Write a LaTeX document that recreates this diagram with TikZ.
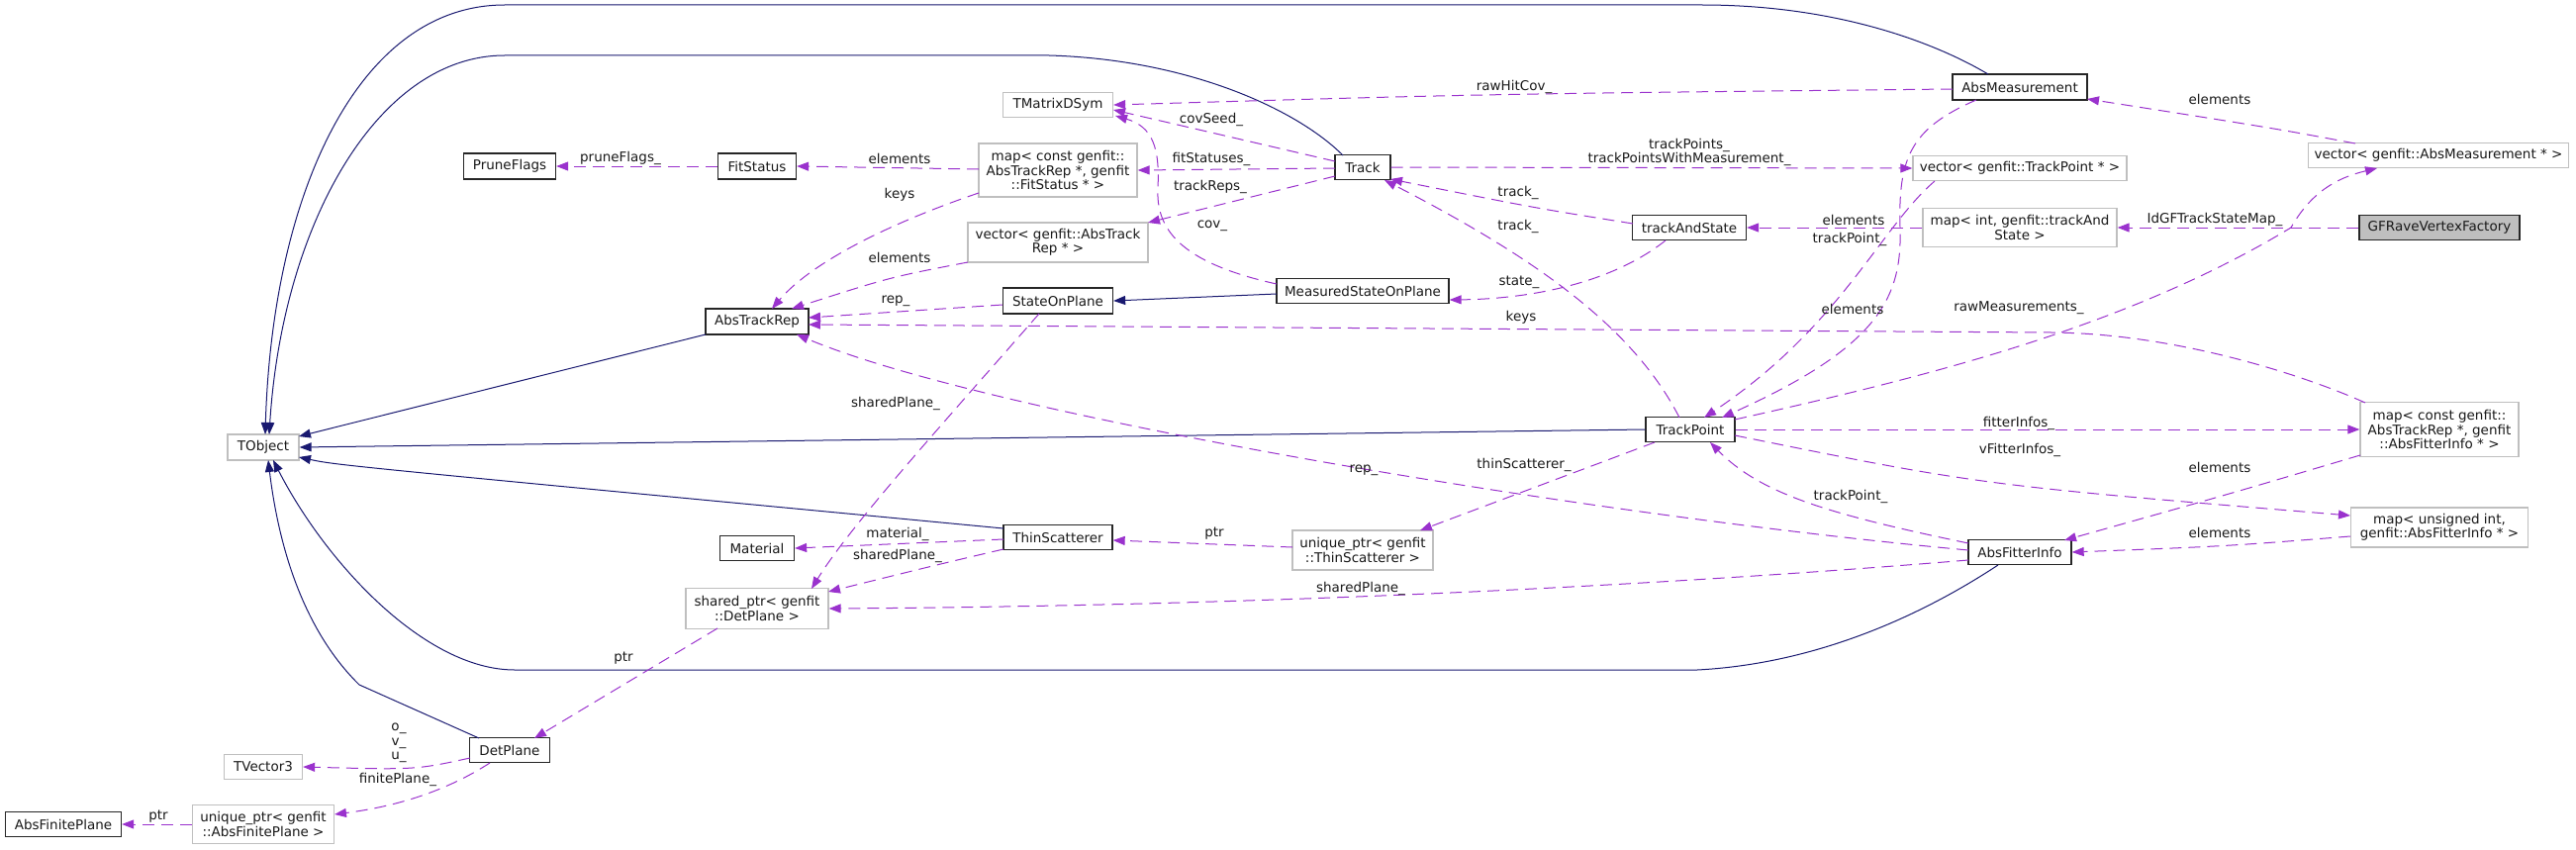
\documentclass[tikz,border=0pt]{standalone}
\usepackage{fontspec}
\setmainfont{DejaVu Sans}
\usetikzlibrary{arrows.meta,calc}
\definecolor{purp}{HTML}{9A32CD}
\definecolor{navyb}{HTML}{191970}
\definecolor{grayb}{HTML}{BFBFBF}
\begin{document}
\begin{tikzpicture}[x=1pt,y=-1pt,
  font=\fontsize{13.5}{14.5}\selectfont,
  cls/.style={draw=black!85,line width=1.3pt,fill=white,inner sep=0pt,align=center,text=black!90},
  ext/.style={draw=grayb,line width=1.3pt,fill=white,inner sep=0pt,align=center,text=black!90},
  inh/.style={draw=navyb,line width=1pt,{Triangle[length=12pt,width=9pt]}-},
  use/.style={draw=purp,line width=1pt,dash pattern=on 12pt off 7pt,-{Triangle[length=12pt,width=9pt]}},
  lbl/.style={inner sep=0pt,align=center,text=black!90}]
\useasboundingbox (0,0) rectangle (2603,859);
% nodes
\node[ext,minimum width=72,minimum height=26] (tobj) at (266,452) {TObject};
\node[cls,minimum width=93,minimum height=26] (prune) at (515,168) {PruneFlags};
\node[cls,minimum width=79,minimum height=26] (fitst) at (765,168) {FitStatus};
\node[ext,minimum width=160,minimum height=54] (mapfs) at (1069,172) {map< const genfit::\\AbsTrackRep *, genfit\\::FitStatus * >};
\node[ext,minimum width=182,minimum height=40] (vecatr) at (1069,245) {vector< genfit::AbsTrack\\Rep * >};
\node[cls,minimum width=104,minimum height=26] (atr) at (765,325) {AbsTrackRep};
\node[ext,minimum width=111,minimum height=25] (tmat) at (1069,106) {TMatrixDSym};
\node[cls,minimum width=111,minimum height=26] (sop) at (1069,304) {StateOnPlane};
\node[cls,minimum width=56,minimum height=25] (track) at (1377,169) {Track};
\node[cls,minimum width=174,minimum height=25] (msop) at (1377,294) {MeasuredStateOnPlane};
\node[cls,minimum width=115,minimum height=25] (tas) at (1707,230) {trackAndState};
\node[cls,minimum width=136,minimum height=26] (absm) at (2041,88) {AbsMeasurement};
\node[ext,minimum width=216,minimum height=25] (vectp) at (2041,170) {vector< genfit::TrackPoint * >};
\node[ext,minimum width=196,minimum height=39] (mapint) at (2041,230) {map< int, genfit::trackAnd\\State >};
\node[ext,minimum width=263,minimum height=25] (vecam) at (2464,157) {vector< genfit::AbsMeasurement * >};
\node[cls,fill=grayb,minimum width=162,minimum height=25] (gfr) at (2465,230) {GFRaveVertexFactory};
\node[cls,minimum width=90,minimum height=25] (tp) at (1708,434) {TrackPoint};
\node[ext,minimum width=160,minimum height=55] (mapafi) at (2465,434) {map< const genfit::\\AbsTrackRep *, genfit\\::AbsFitterInfo * >};
\node[ext,minimum width=179,minimum height=40] (mapuns) at (2465,533) {map< unsigned int,\\genfit::AbsFitterInfo * >};
\node[cls,minimum width=104,minimum height=25] (afi) at (2041,558) {AbsFitterInfo};
\node[cls,minimum width=110,minimum height=25] (ts) at (1069,543) {ThinScatterer};
\node[cls,minimum width=75,minimum height=25] (mat) at (765,554) {Material};
\node[ext,minimum width=142,minimum height=40] (uts) at (1377,556) {unique\_ptr< genfit\\::ThinScatterer >};
\node[ext,minimum width=144,minimum height=41] (sptr) at (765,615) {shared\_ptr< genfit\\::DetPlane >};
\node[cls,minimum width=81,minimum height=25] (detp) at (515,758) {DetPlane};
\node[ext,minimum width=79,minimum height=25] (tvec) at (266,775) {TVector3};
\node[cls,minimum width=117,minimum height=25] (afp) at (64,833) {AbsFinitePlane};
\node[ext,minimum width=143,minimum height=39] (uafp) at (266,833) {unique\_ptr< genfit\\::AbsFinitePlane >};
% inheritance
\draw[inh] ($(tobj)+(2,-13)$) .. controls (275,200) and (360,5) .. (510,5) -- (1720,5) .. controls (1850,5) and (1950,40) .. ($(absm)+(-32,-13)$);
\draw[inh] ($(tobj)+(6,-13)$) .. controls (285,230) and (380,56) .. (510,56) -- (1060,56) .. controls (1200,60) and (1310,110) .. ($(track)+(-20,-12)$);
\draw[inh] ($(tobj)+(36,-11)$) -- ($(atr)+(-52,13)$);
\draw[inh] (tobj.east) -- (tp.west);
\draw[inh] ($(tobj)+(36,10)$) .. controls (340,470) .. ($(ts)+(-55,-9)$);
\draw[inh] ($(tobj)+(5,13)$) .. controls (285,580) and (320,650) .. (363,692) -- ($(detp)+(-31,-12)$);
\draw[inh] ($(tobj)+(10,13)$) .. controls (330,570) and (430,677) .. (520,677) -- (1715,677) .. controls (1850,670) and (1960,610) .. ($(afi)+(-22,13)$);
\draw[inh] (sop.east) -- ($(msop)+(-87,3)$);
% usage
\draw[use] (fitst.west) -- (prune.east);
\draw[use] ($(mapfs)+(-80,-1)$) -- (fitst.east);
\draw[use] ($(mapfs)+(-80,23)$) .. controls (900,225) and (820,265) .. ($(atr)+(15,-13)$);
\draw[use] ($(vecatr)+(-91,20)$) .. controls (900,280) .. ($(atr)+(35,-13)$);
\draw[use] ($(sop)+(-56,4)$) -- ($(atr)+(52,-4)$);
\draw[use] ($(mapafi)+(-75,-27)$) .. controls (2330,380) and (2200,337) .. (2073,336) -- ($(atr)+(52,3)$);
\draw[use] ($(afi)+(-52,-2)$) .. controls (1600,520) and (1000,420) .. ($(atr)+(40,13)$);
\draw[use] ($(sop)+(-19,13)$) .. controls (960,420) and (860,530) .. ($(sptr)+(55,-20)$);
\draw[use] ($(ts)+(-55,2)$) -- (mat.east);
\draw[use] ($(ts)+(-55,12)$) .. controls (950,570) .. ($(sptr)+(72,-17)$);
\draw[use] ($(afi)+(-52,8)$) .. controls (1700,590) and (1300,612) .. (sptr.east);
\draw[use] ($(sptr)+(-40,20)$) -- ($(detp)+(25,-12)$);
\draw[use] ($(detp)+(-40,8)$) .. controls (420,778) .. (tvec.east);
\draw[use] ($(detp)+(-20,13)$) .. controls (450,800) and (400,815) .. ($(uafp)+(72,-10)$);
\draw[use] (uafp.west) -- (afp.east);
\draw[use] ($(track)+(-28,-6)$) .. controls (1250,140) .. ($(tmat)+(56,5)$);
\draw[use] ($(absm)+(-68,2)$) .. controls (1500,95) .. (tmat.east);
\draw[use] ($(msop)+(-87,-7)$) .. controls (1190,265) and (1168,230) .. (1170,190) .. controls (1172,150) and (1165,128) .. ($(tmat)+(58,11)$);
\draw[use] ($(track)+(-28,1)$) -- (mapfs.east);
\draw[use] ($(track)+(-28,9)$) -- ($(vecatr)+(91,-20)$);
\draw[use] (track.east) -- (vectp.west);
\draw[use] ($(tas)+(-57,-4)$) .. controls (1550,210) .. ($(track)+(28,12)$);
\draw[use] ($(tp)+(-11,-12)$) .. controls (1650,330) and (1550,260) .. ($(track)+(22,13)$);
\draw[use] ($(tas)+(-24,13)$) .. controls (1630,285) and (1550,302) .. ($(msop.east)+(0,9)$);
\draw[use] (mapint.west) -- (tas.east);
\draw[use] ($(vectp)+(-86,13)$) .. controls (1900,230) and (1860,330) .. ($(tp)+(14,-12)$);
\draw[use] ($(absm)+(-44,13)$) .. controls (1930,130) and (1918,160) .. (1920,230) .. controls (1922,300) and (1900,350) .. ($(tp)+(32,-12)$);
\draw[use] (gfr.west) -- (mapint.east);
\draw[use] ($(vecam)+(-84,-12)$) .. controls (2300,130) .. ($(absm)+(68,12)$);
\draw[use] ($(tp)+(45,-10)$) .. controls (1950,380) and (2150,330) .. (2315,230) .. controls (2335,195) and (2360,180) .. ($(vecam)+(-62,13)$);
\draw[use] (tp.east) -- (mapafi.west);
\draw[use] ($(tp)+(45,6)$) .. controls (2000,490) .. ($(mapuns)+(-90,-12)$);
\draw[use] ($(tp)+(-36,13)$) -- ($(uts)+(58,-20)$);
\draw[use] ($(afi)+(-52,-9)$) .. controls (1850,520) and (1780,500) .. ($(tp)+(20,13)$);
\draw[use] ($(mapafi)+(-80,26)$) .. controls (2250,500) .. ($(afi)+(45,-12)$);
\draw[use] ($(mapuns)+(-90,9)$) .. controls (2250,552) .. (afi.east);
\draw[use] ($(uts)+(-71,-3)$) -- ($(ts.east)+(0,3)$);
% labels
\node[lbl] (l1) at (627,160) {pruneFlags\_};
\node[lbl] (l2) at (909,160) {elements};
\node[lbl] (l3) at (909,197) {keys};
\node[lbl] (l4) at (909,260) {elements};
\node[lbl] (l5) at (905,304) {rep\_};
\node[lbl] (l6) at (1537,321) {keys};
\node[lbl] (l7) at (1378,475) {rep\_};
\node[lbl] (l8) at (905,408) {sharedPlane\_};
\node[lbl] (l9) at (907,540) {material\_};
\node[lbl] (l10) at (907,562) {sharedPlane\_};
\node[lbl] (l11) at (1375,595) {sharedPlane\_};
\node[lbl] (l12) at (630,665) {ptr};
\node[lbl] (l13) at (403,751) {o\_\\v\_\\u\_};
\node[lbl] (l14) at (402,788) {finitePlane\_};
\node[lbl] (l15) at (160,825) {ptr};
\node[lbl] (l16) at (1224,121) {covSeed\_};
\node[lbl] (l17) at (1530,88) {rawHitCov\_};
\node[lbl] (l18) at (1225,228) {cov\_};
\node[lbl] (l19) at (1224,161) {fitStatuses\_};
\node[lbl] (l20) at (1223,189) {trackReps\_};
\node[lbl] (l21) at (1707,154) {trackPoints\_\\trackPointsWithMeasurement\_};
\node[lbl] (l22) at (1534,195) {track\_};
\node[lbl] (l23) at (1534,229) {track\_};
\node[lbl] (l24) at (1535,285) {state\_};
\node[lbl] (l25) at (1873,222) {elements};
\node[lbl] (l26) at (1872,312) {elements};
\node[lbl] (l27) at (1869,242) {trackPoint\_};
\node[lbl] (l28) at (2238,222) {IdGFTrackStateMap\_};
\node[lbl] (l29) at (2243,100) {elements};
\node[lbl] (l30) at (2040,311) {rawMeasurements\_};
\node[lbl] (l31) at (2040,428) {fitterInfos\_};
\node[lbl] (l32) at (2041,455) {vFitterInfos\_};
\node[lbl] (l33) at (1540,470) {thinScatterer\_};
\node[lbl] (l34) at (1870,502) {trackPoint\_};
\node[lbl] (l35) at (2243,472) {elements};
\node[lbl] (l36) at (2243,538) {elements};
\node[lbl] (l37) at (1227,539) {ptr};
\end{tikzpicture}
\end{document}
